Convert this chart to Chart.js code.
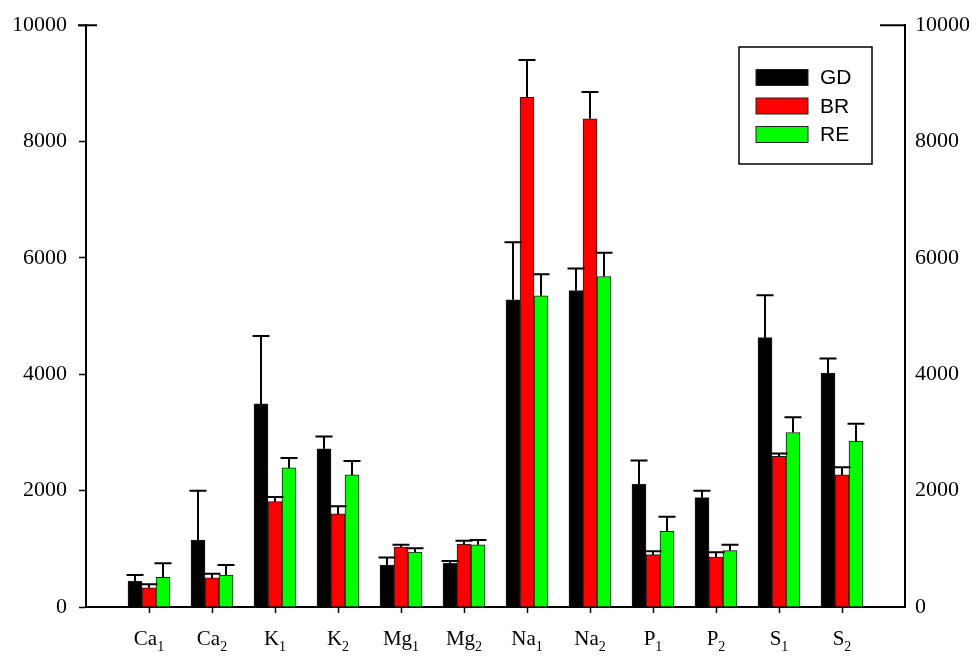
<!DOCTYPE html>
<html>
<head>
<meta charset="utf-8">
<title>Element concentrations</title>
<script src="https://cdn.jsdelivr.net/npm/chart.js@4.4.0/dist/chart.umd.min.js"></script>
<style>
  body { margin: 0; background: #fff; }
  #wrap { width: 980px; height: 666px; }
</style>
</head>
<body>
<div id="wrap"><canvas id="chart" width="980" height="666"></canvas></div>
<script>
// categories: element name + sample number (drawn as subscript)
const categories = ['Ca_1', 'Ca_2', 'K_1', 'K_2', 'Mg_1', 'Mg_2', 'Na_1', 'Na_2', 'P_1', 'P_2', 'S_1', 'S_2'];
const seriesNames = ['GD', 'BR', 'RE'];
const seriesColors = ['#000000', '#ff0000', '#00ff00'];

const gdValues = [440, 1150, 3490, 2720, 720, 750, 5280, 5440, 2110, 1880, 4630, 4020];
const gdErrors = [110, 850, 1170, 210, 130, 40, 990, 380, 410, 120, 730, 250];
const brValues = [330, 500, 1810, 1600, 1030, 1080, 8760, 8390, 900, 860, 2590, 2270];
const brErrors = [60, 70, 80, 130, 40, 60, 640, 460, 60, 80, 50, 130];
const reValues = [510, 550, 2390, 2270, 945, 1070, 5350, 5680, 1300, 970, 3000, 2850];
const reErrors = [240, 170, 170, 240, 65, 80, 370, 410, 250, 100, 260, 300];

const yTicks = [0, 2000, 4000, 6000, 8000, 10000];

const allValues = [gdValues, brValues, reValues];
const allErrors = [gdErrors, brErrors, reErrors];

const serif = "'Liberation Serif', 'Times New Roman', serif";
const sans = "'Liberation Sans', Arial, sans-serif";

// upward error bars with caps
const errorBars = {
    id: 'errorBars',
    afterDatasetsDraw(chart) {
        const ctx = chart.ctx;
        const y = chart.scales.y;
        ctx.save();
        ctx.strokeStyle = '#000';
        ctx.lineWidth = 2;
        chart.data.datasets.forEach((ds, i) => {
            const meta = chart.getDatasetMeta(i);
            meta.data.forEach((bar, j) => {
                const top = y.getPixelForValue(allValues[i][j] + allErrors[i][j]);
                ctx.beginPath();
                ctx.moveTo(bar.x, bar.y);
                ctx.lineTo(bar.x, top);
                ctx.moveTo(bar.x - 8.5, top);
                ctx.lineTo(bar.x + 8.5, top);
                ctx.stroke();
            });
        });
        ctx.restore();
    }
};

// category labels with subscripts, the small caps at the top of both axes, legend
const axisExtras = {
    id: 'axisExtras',
    afterDraw(chart) {
        const ctx = chart.ctx;
        const x = chart.scales.x;
        const area = chart.chartArea;
        ctx.save();
        ctx.fillStyle = '#000';
        ctx.textBaseline = 'alphabetic';
        ctx.textAlign = 'left';
        categories.forEach((c, i) => {
            const [base, sub] = c.split('_');
            const px = x.getPixelForValue(i + 1);
            ctx.font = '21px ' + serif;
            const wb = ctx.measureText(base).width;
            ctx.font = '14px ' + serif;
            const ws = ctx.measureText(sub).width;
            const start = px - (wb + ws) / 2;
            ctx.font = '21px ' + serif;
            ctx.fillText(base, start, 645);
            ctx.font = '14px ' + serif;
            ctx.fillText(sub, start + wb, 651);
        });

        ctx.strokeStyle = '#000';
        ctx.lineWidth = 2;
        ctx.beginPath();
        ctx.moveTo(area.left - 8, area.top);
        ctx.lineTo(area.left + 11, area.top);
        ctx.moveTo(area.right - 25, area.top);
        ctx.lineTo(area.right, area.top);
        ctx.stroke();

        // legend box
        ctx.lineWidth = 1.5;
        ctx.strokeRect(739, 47, 133, 117);
        ctx.font = '21px ' + sans;
        ctx.textBaseline = 'middle';
        seriesNames.forEach((name, i) => {
            const cy = 77.5 + i * 28.5;
            ctx.fillStyle = seriesColors[i];
            ctx.fillRect(756, cy - 8, 52, 16);
            ctx.lineWidth = 1;
            ctx.strokeStyle = '#222';
            ctx.strokeRect(756, cy - 8, 52, 16);
            ctx.fillStyle = '#000';
            ctx.fillText(name, 820, cy + 1);
        });
        ctx.restore();
    }
};

const datasets = seriesNames.map((name, i) => ({
    label: name,
    data: allValues[i].map((v, j) => ({ x: j + 1, y: v })),
    backgroundColor: seriesColors[i],
    borderColor: '#1a1a1a',
    borderWidth: 1,
    barThickness: 14,
    yAxisID: 'y'
}));

const yScale = {
    min: 0,
    max: 10000,
    afterBuildTicks: s => { s.ticks = yTicks.map(v => ({ value: v })); },
    ticks: {
        color: '#000',
        font: { family: serif, size: 22 },
        callback: v => String(v)
    }
};

new Chart(document.getElementById('chart'), {
    type: 'bar',
    data: { datasets },
    plugins: [errorBars, axisExtras],
    options: {
        responsive: false,
        animation: false,
        layout: { padding: { top: 20, left: 0, right: 0, bottom: 0 } },
        plugins: {
            legend: { display: false },
            tooltip: { enabled: false }
        },
        scales: {
            x: {
                type: 'linear',
                min: 0,
                max: 13,
                offset: false,
                afterBuildTicks: s => { s.ticks = categories.map((c, i) => ({ value: i + 1 })); },
                afterFit: s => { s.height = 59; },
                grid: { offset: false, drawOnChartArea: false, drawTicks: true, tickLength: 6, tickWidth: 1.5, color: '#000' },
                border: { display: true, color: '#000', width: 2 },
                ticks: { display: false }
            },
            y: Object.assign({}, yScale, {
                position: 'left',
                afterFit: s => { s.width = 86; },
                grid: { drawOnChartArea: false, drawTicks: true, tickLength: 7, tickWidth: 1.5, color: '#000' },
                border: { display: true, color: '#000', width: 2 },
                ticks: Object.assign({}, yScale.ticks, { padding: 12 })
            }),
            y2: Object.assign({}, yScale, {
                position: 'right',
                display: true,
                afterFit: s => { s.width = 75; },
                grid: { drawOnChartArea: false, drawTicks: false },
                border: { display: true, color: '#000', width: 2 },
                ticks: Object.assign({}, yScale.ticks, { padding: 10 })
            })
        }
    }
});
</script>
</body>
</html>
